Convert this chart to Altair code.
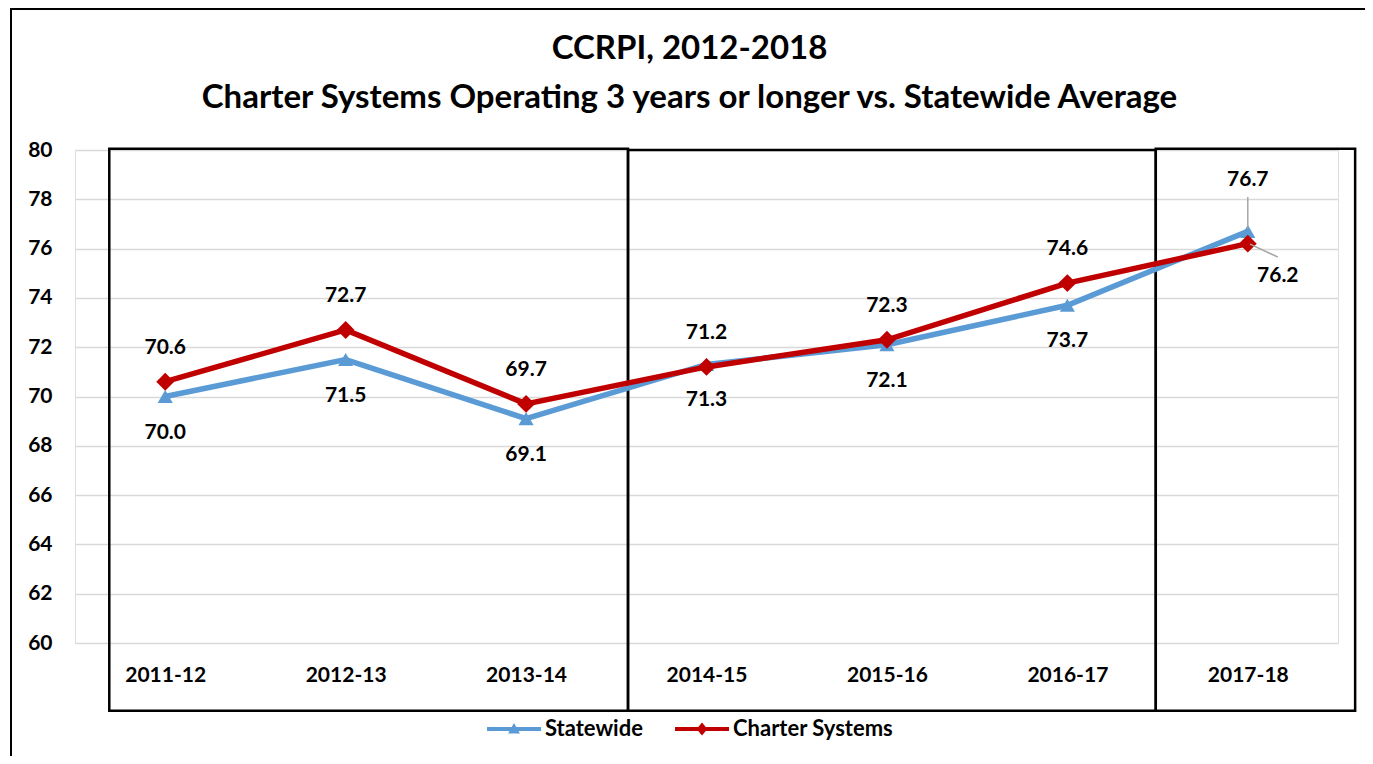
import altair as alt
import pandas as pd

# ---------------- data ----------------
years = ["2011-12", "2012-13", "2013-14", "2014-15", "2015-16", "2016-17", "2017-18"]
statewide = [70.0, 71.5, 69.1, 71.3, 72.1, 73.7, 76.7]
charter = [70.6, 72.7, 69.7, 71.2, 72.3, 74.6, 76.2]
series_names = ["Statewide", "Charter Systems"]
series_colors = ["#5B9BD5", "#C00000"]
y_ticks = list(range(60, 81, 2))

# grouping boxes (category-index units / value units)
box_start = [-0.31, 2.565, 5.49]
box_end = [2.565, 5.49, 6.595]
box_top = [80.05, 80.0, 80.05]
box_bottom = [57.25, 57.25, 57.25]

FONT = "Lato"
FS = 21

rows = []
for i, y in enumerate(years):
    rows.append({"idx": i, "year": y, "series": "Statewide", "value": statewide[i]})
    rows.append({"idx": i, "year": y, "series": "Charter Systems", "value": charter[i]})
df = pd.DataFrame(rows)
sw = df[df.series == "Statewide"]
ch = df[df.series == "Charter Systems"]

box_df = pd.DataFrame({"x0": box_start, "x1": box_end, "t": box_top, "b": box_bottom})

last = len(years) - 1
leader_df = pd.DataFrame({
    "x": [last, last + 0.012],
    "x2": [last, last + 0.166],
    "y": [statewide[-1] + 0.12, charter[-1] - 0.02],
    "y2": [statewide[-1] + 1.39, charter[-1] - 0.54],
})

label_expr = "[" + ",".join("'%s'" % y for y in years) + "][datum.value]"

x_scale = alt.Scale(domain=[-0.5, len(years) - 0.5], nice=False, zero=False)
y_scale = alt.Scale(domain=[60, 80], nice=False, zero=False)

x_axis = alt.Axis(values=list(range(len(years))), labelExpr=label_expr, grid=False,
                  ticks=False, domain=False, labelFont=FONT, labelFontSize=FS,
                  labelFontWeight="bold", labelColor="black", labelPadding=32,
                  labelBaseline="middle", title=None)
y_axis = alt.Axis(values=y_ticks, grid=True, gridColor="#d9d9d9", gridWidth=1.5,
                  ticks=False, domain=False, labelFont=FONT, labelFontSize=FS,
                  labelFontWeight="bold", labelColor="black", labelPadding=23, title=None)


def X(field):
    return alt.X(field, type="quantitative", scale=x_scale, axis=x_axis, title=None)


def Y(field):
    return alt.Y(field, type="quantitative", scale=y_scale, axis=y_axis, title=None)


boxes = alt.Chart(box_df).mark_rect(fill="transparent", stroke="black", strokeWidth=2.5,
                                    clip=False).encode(
    x=X("x0"), x2="x1", y=Y("t"), y2="b")

sw_line = alt.Chart(sw).mark_line(color=series_colors[0], strokeWidth=5.5).encode(
    x=X("idx"), y=Y("value"))
sw_pts = alt.Chart(sw).mark_point(shape="triangle-up", filled=True, opacity=1,
                                  color=series_colors[0], size=230).encode(
    x=X("idx"), y=Y("value"))
ch_line = alt.Chart(ch).mark_line(color=series_colors[1], strokeWidth=5.5).encode(
    x=X("idx"), y=Y("value"))
ch_pts = alt.Chart(ch).mark_point(shape="diamond", filled=True, opacity=1,
                                  color=series_colors[1], size=320).encode(
    x=X("idx"), y=Y("value"))

txt = dict(font=FONT, fontSize=FS, fontWeight="bold", color="black")
sw_lab = alt.Chart(sw).transform_filter(f"datum.idx < {last}").mark_text(dy=36, **txt).encode(
    x=X("idx"), y=Y("value"), text=alt.Text("value:Q", format=".1f"))
sw_lab_last = alt.Chart(sw).transform_filter(f"datum.idx == {last}").mark_text(dy=-51, **txt).encode(
    x=X("idx"), y=Y("value"), text=alt.Text("value:Q", format=".1f"))
ch_lab = alt.Chart(ch).transform_filter(f"datum.idx < {last}").mark_text(dy=-34, **txt).encode(
    x=X("idx"), y=Y("value"), text=alt.Text("value:Q", format=".1f"))
ch_lab_last = alt.Chart(ch).transform_filter(f"datum.idx == {last}").mark_text(dx=30, dy=32, **txt).encode(
    x=X("idx"), y=Y("value"), text=alt.Text("value:Q", format=".1f"))

leaders = alt.Chart(leader_df).mark_rule(color="#a6a6a6", strokeWidth=1.5).encode(
    x=X("x"), x2="x2", y=Y("y"), y2="y2")

# legend (line + marker symbols)
tri_path = "M-1,-0.075L1,-0.075L1,0.075L-1,0.075Z M-0.22,0.17L0,-0.22L0.22,0.17Z"
dia_path = "M-1,-0.075L1,-0.075L1,0.075L-1,0.075Z M-0.2,0L0,-0.24L0.2,0L0,0.24Z"
legend = alt.Legend(orient="none", legendX=412, legendY=552, direction="horizontal",
                    title=None, symbolSize=2916, labelFont=FONT, labelFontSize=22,
                    labelFontWeight="bold", labelColor="black", symbolOpacity=1,
                    symbolStrokeWidth=0, labelOffset=4, columnPadding=32, labelLimit=400)
leg_df = pd.DataFrame({"series": series_names})
leg = alt.Chart(leg_df).mark_point(filled=True, opacity=0).encode(
    fill=alt.Fill("series:N", scale=alt.Scale(domain=series_names, range=series_colors),
                  legend=legend, title=None),
    shape=alt.Shape("series:N", scale=alt.Scale(domain=series_names, range=[tri_path, dia_path]),
                    legend=legend, title=None),
)

frame = alt.Chart(pd.DataFrame({"a": [0]})).mark_rect(
    fill="transparent", stroke="black", strokeWidth=2, clip=False).encode(
    x=alt.value(-64), x2=alt.value(1292), y=alt.value(-141), y2=alt.value(720))

chart = alt.layer(boxes, sw_line, sw_pts, ch_line, ch_pts, sw_lab, sw_lab_last,
                  ch_lab, ch_lab_last, leaders, leg, frame).properties(
    width=1263, height=493,
    padding={"left": 67, "top": 142, "right": 27, "bottom": 113},
    autosize=alt.AutoSizeParams(type="none"),
    title=alt.TitleParams(
        text=["CCRPI, 2012-2018",
              "Charter Systems Operating 3 years or longer vs. Statewide Average"],
        font=FONT, fontSize=33, fontWeight="bold", color="black", lineHeight=49,
        anchor="middle", dx=-17, offset=0, dy=107),
).configure_view(stroke="transparent").configure(background="white")

chart.save("out.html", embed_options={"renderer": "svg", "actions": False})
